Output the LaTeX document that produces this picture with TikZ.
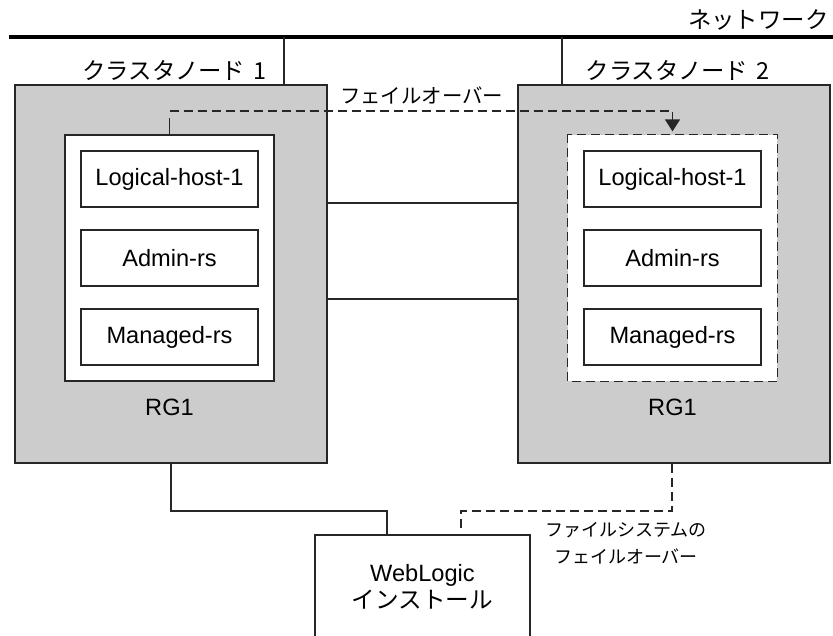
\documentclass[tikz,border=0pt]{standalone}
\usepackage{fontspec}
\setmainfont{Liberation Sans}
\newfontfamily\jp{Noto Sans CJK JP}
\usetikzlibrary{arrows.meta}
\begin{document}
\begin{tikzpicture}[x=1pt,y=-1pt,line width=1.2pt,
  graybox/.style={draw=black!85,fill=black!20,minimum width=312pt,minimum height=378pt,inner sep=0pt},
  rgbox/.style={draw=black!85,fill=white,minimum width=209pt,minimum height=246pt,inner sep=0pt},
  resbox/.style={draw=black!85,fill=white,minimum width=177pt,minimum height=56pt,inner sep=0pt,font=\fontsize{23.6}{28}\selectfont},
  lat/.style={inner sep=0pt,font=\fontsize{23.6}{28}\selectfont},
  jplbl/.style={inner sep=0pt,font=\jp\fontsize{23.4}{28}\selectfont},
  dsh/.style={draw=black!85,dash pattern=on 9pt off 5pt},
  conn/.style={draw=black!85}]
\useasboundingbox (0,0) rectangle (833,635);
% network
\coordinate (netL) at (9,37);
\coordinate (netR) at (833,37);
\draw[line width=4pt] (netL) -- (netR);
\node[jplbl,anchor=east] (netlbl) at (829,20) {ネットワーク};
% cluster nodes
\node[graybox] (cn1) at (171,274) {};
\node[graybox] (cn2) at (674,274) {};
\node[jplbl] (cn1lbl) at (174.5,70) {クラスタノード\hspace{0.35em}1};
\node[jplbl] (cn2lbl) at (677.5,70) {クラスタノード\hspace{0.35em}2};
\coordinate (n1) at (284,37);
\coordinate (n2) at (562,37);
\draw[conn] (n1) -- (n1 |- cn1.north);
\draw[conn] (n2) -- (n2 |- cn2.north);
% links between nodes
\coordinate (h1) at (0,203);
\coordinate (h2) at (0,299);
\draw[conn] (cn1.east |- h1) -- (cn2.west |- h1);
\draw[conn] (cn1.east |- h2) -- (cn2.west |- h2);
% resource groups
\node[rgbox] (rg1) at (169.5,258) {};
\node[rgbox,draw=none] (rg2) at (672.5,258) {};
\draw[dsh] (rg2.north west) rectangle (rg2.south east);
\node[resbox] (lh1) at (169.5,179) {Logical-host-1};
\node[resbox] (ad1) at (169.5,258) {Admin-rs};
\node[resbox] (mg1) at (169.5,337) {Managed-rs};
\node[resbox] (lh2) at (672.5,179) {Logical-host-1};
\node[resbox] (ad2) at (672.5,258) {Admin-rs};
\node[resbox] (mg2) at (672.5,337) {Managed-rs};
\node[lat] (rg1lbl) at (169.5,407) {RG1};
\node[lat] (rg2lbl) at (672.5,407) {RG1};
% failover
\coordinate (fo) at (0,111);
\draw[conn] (rg1.north) -- ++(0,-16);
\draw[dsh,-{Triangle[width=15pt,length=12pt]},shorten >=3pt] (rg1.north |- fo) -- (rg2.north |- fo) -- (rg2.north);
\node[jplbl,font=\jp\fontsize{20.4}{24}\selectfont] (folbl) at (421.5,95) {フェイルオーバー};
% WebLogic install
\node[draw=black!85,fill=white,minimum width=215pt,minimum height=103pt,inner sep=0pt,align=center,font=\fontsize{23.6}{27}\selectfont] (wl) at (422.5,586.5) {WebLogic\\{\jp インストール}};
\coordinate (b1) at (387,511);
\coordinate (b2) at (461,511);
\coordinate (b3) at (461,530);
\draw[conn] (cn1.south) |- (b1) -- (b1 |- wl.north);
\draw[dsh] (cn2.south -| 672,0) |- (b2) -- (b3);
\node[jplbl,align=center,font=\jp\fontsize{18}{27}\selectfont] (fslbl) at (626,543.5) {ファイルシステムの\\フェイルオーバー};
\end{tikzpicture}
\end{document}
